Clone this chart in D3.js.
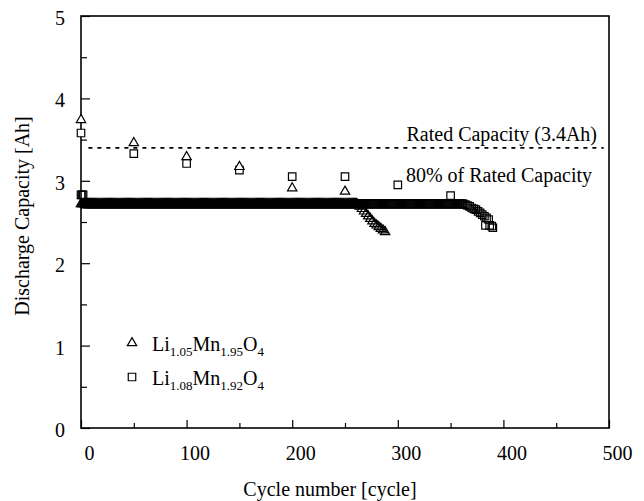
<!DOCTYPE html>
<html>
<head>
<meta charset="utf-8">
<script src="https://cdn.jsdelivr.net/npm/d3@7"></script>
<style>
  body { margin: 0; background: #fff; }
  text { font-family: "Liberation Serif", "Times New Roman", serif; fill: #000; }
</style>
</head>
<body>
<svg id="chart" width="644" height="501"></svg>
<script>
// Axis ticks
const xMajorTicks = [0, 100, 200, 300, 400, 500];
const xMinorTicks = [50, 150, 250, 350, 450];
const yMajorTicks = [0, 1, 2, 3, 4, 5];
const yMinorTicks = [0.5, 1.5, 2.5, 3.5, 4.5];

// Reference lines
const ratedCapacity = 3.4;
const ratedLabel = "Rated Capacity (3.4Ah)";
const eightyLabel = "80% of Rated Capacity";

// Full-capacity check every 50 cycles
const triCheckCycles = [0, 50, 100, 150, 200, 250];
const triCheckCap = [3.74, 3.46, 3.29, 3.17, 2.91, 2.87];
const sqCheckCycles = [0, 50, 100, 150, 200, 250, 300, 350];
const sqCheckCap = [3.58, 3.33, 3.21, 3.13, 3.05, 3.05, 2.95, 2.82];

// Per-cycle discharge capacity (array index = cycle number, null = not recorded)
// Li1.05Mn1.95O4
const triCapacity = [
  2.72,2.72,2.72,2.72,2.72,2.72,2.72,2.72,2.72,2.72,2.72,2.72,2.72,2.72,2.72,2.72,2.72,2.72,2.72,2.72,
  2.72,2.72,2.72,2.72,2.72,2.72,2.72,2.72,2.72,2.72,2.72,2.72,2.72,2.72,2.72,2.72,2.72,2.72,2.72,2.72,
  2.72,2.72,2.72,2.72,2.72,2.72,2.72,2.72,2.72,2.72,2.72,2.72,2.72,2.72,2.72,2.72,2.72,2.72,2.72,2.72,
  2.72,2.72,2.72,2.72,2.72,2.72,2.72,2.72,2.72,2.72,2.72,2.72,2.72,2.72,2.72,2.72,2.72,2.72,2.72,2.72,
  2.72,2.72,2.72,2.72,2.72,2.72,2.72,2.72,2.72,2.72,2.72,2.72,2.72,2.72,2.72,2.72,2.72,2.72,2.72,2.72,
  2.72,2.72,2.72,2.72,2.72,2.72,2.72,2.72,2.72,2.72,2.72,2.72,2.72,2.72,2.72,2.72,2.72,2.72,2.72,2.72,
  2.72,2.72,2.72,2.72,2.72,2.72,2.72,2.72,2.72,2.72,2.72,2.72,2.72,2.72,2.72,2.72,2.72,2.72,2.72,2.72,
  2.72,2.72,2.72,2.72,2.72,2.72,2.72,2.72,2.72,2.72,2.72,2.72,2.72,2.72,2.72,2.72,2.72,2.72,2.72,2.72,
  2.72,2.72,2.72,2.72,2.72,2.72,2.72,2.72,2.72,2.72,2.72,2.72,2.72,2.72,2.72,2.72,2.72,2.72,2.72,2.72,
  2.72,2.72,2.72,2.72,2.72,2.72,2.72,2.72,2.72,2.72,2.72,2.72,2.72,2.72,2.72,2.72,2.72,2.72,2.72,2.72,
  2.72,2.72,2.72,2.72,2.72,2.72,2.72,2.72,2.72,2.72,2.72,2.72,2.72,2.72,2.72,2.72,2.72,2.72,2.72,2.72,
  2.72,2.72,2.72,2.72,2.72,2.72,2.72,2.72,2.72,2.72,2.72,2.72,2.72,2.72,2.72,2.72,2.72,2.72,2.72,2.72,
  2.72,2.72,2.72,2.72,2.72,2.72,2.72,2.72,2.72,2.72,2.72,2.72,2.72,2.72,2.72,2.72,2.72,2.72,2.72,2.72,
  2.72,2.72,2.71,null,2.69,null,2.66,null,2.63,null,2.60,null,2.57,null,2.54,null,2.51,null,2.48,null,
  2.46,null,2.44,null,2.42,null,2.40,null,2.38
];
// Li1.08Mn1.92O4
const sqCapacity = [
  2.83,2.83,2.83,2.72,2.72,2.72,2.72,2.72,2.72,2.72,2.72,2.72,2.72,2.72,2.72,2.72,2.72,2.72,2.72,2.72,
  2.72,2.72,2.72,2.72,2.72,2.72,2.72,2.72,2.72,2.72,2.72,2.72,2.72,2.72,2.72,2.72,2.72,2.72,2.72,2.72,
  2.72,2.72,2.72,2.72,2.72,2.72,2.72,2.72,2.72,2.72,2.72,2.72,2.72,2.72,2.72,2.72,2.72,2.72,2.72,2.72,
  2.72,2.72,2.72,2.72,2.72,2.72,2.72,2.72,2.72,2.72,2.72,2.72,2.72,2.72,2.72,2.72,2.72,2.72,2.72,2.72,
  2.72,2.72,2.72,2.72,2.72,2.72,2.72,2.72,2.72,2.72,2.72,2.72,2.72,2.72,2.72,2.72,2.72,2.72,2.72,2.72,
  2.72,2.72,2.72,2.72,2.72,2.72,2.72,2.72,2.72,2.72,2.72,2.72,2.72,2.72,2.72,2.72,2.72,2.72,2.72,2.72,
  2.72,2.72,2.72,2.72,2.72,2.72,2.72,2.72,2.72,2.72,2.72,2.72,2.72,2.72,2.72,2.72,2.72,2.72,2.72,2.72,
  2.72,2.72,2.72,2.72,2.72,2.72,2.72,2.72,2.72,2.72,2.72,2.72,2.72,2.72,2.72,2.72,2.72,2.72,2.72,2.72,
  2.72,2.72,2.72,2.72,2.72,2.72,2.72,2.72,2.72,2.72,2.72,2.72,2.72,2.72,2.72,2.72,2.72,2.72,2.72,2.72,
  2.72,2.72,2.72,2.72,2.72,2.72,2.72,2.72,2.72,2.72,2.72,2.72,2.72,2.72,2.72,2.72,2.72,2.72,2.72,2.72,
  2.72,2.72,2.72,2.72,2.72,2.72,2.72,2.72,2.72,2.72,2.72,2.72,2.72,2.72,2.72,2.72,2.72,2.72,2.72,2.72,
  2.72,2.72,2.72,2.72,2.72,2.72,2.72,2.72,2.72,2.72,2.72,2.72,2.72,2.72,2.72,2.72,2.72,2.72,2.72,2.72,
  2.72,2.72,2.72,2.72,2.72,2.72,2.72,2.72,2.72,2.72,2.72,2.72,2.72,2.72,2.72,2.72,2.72,2.72,2.72,2.72,
  2.72,2.72,2.72,2.72,2.72,2.72,2.72,2.72,2.72,2.72,2.72,2.72,2.72,2.72,2.72,2.72,2.72,2.72,2.72,2.72,
  2.72,2.72,2.72,2.72,2.72,2.72,2.72,2.72,2.72,2.72,2.72,2.72,2.72,2.72,2.72,2.72,2.72,2.72,2.72,2.72,
  2.72,2.72,2.72,2.72,2.72,2.72,2.72,2.72,2.72,2.72,2.72,2.72,2.72,2.72,2.72,2.72,2.72,2.72,2.72,2.72,
  2.72,2.72,2.72,2.72,2.72,2.72,2.72,2.72,2.72,2.72,2.72,2.72,2.72,2.72,2.72,2.72,2.72,2.72,2.72,2.72,
  2.72,2.72,2.72,2.72,2.72,2.72,2.72,2.72,2.72,2.72,2.72,2.72,2.72,2.72,2.72,2.72,2.72,2.72,2.72,2.72,
  2.72,2.72,2.72,null,2.71,null,2.70,null,2.69,null,2.67,null,2.66,null,2.65,null,2.63,null,2.61,null,
  2.59,null,2.57,2.46,2.55,null,2.53,2.46,null,2.45,2.43
];

// Legend entries
const legendLabels = [
  { symbol: "triangle", parts: [["Li", false], ["1.05", true], ["Mn", false], ["1.95", true], ["O", false], ["4", true]] },
  { symbol: "square",   parts: [["Li", false], ["1.08", true], ["Mn", false], ["1.92", true], ["O", false], ["4", true]] }
];

const svg = d3.select("#chart");
const x = d3.scaleLinear().domain([0, 500]).range([81, 609]);
const y = d3.scaleLinear().domain([0, 5]).range([428, 16]);

const triSym = d3.symbol().type(d3.symbolTriangle).size(38);
const sqSym = d3.symbol().type(d3.symbolSquare).size(56);
const symFor = s => s === "triangle" ? triSym() : sqSym();

// Axes with inward ticks
const gx = svg.append("g").attr("transform", `translate(0,${y(0)})`)
  .call(d3.axisBottom(x).tickValues(xMajorTicks).tickSize(-8).tickPadding(18).tickFormat(d3.format("d")));
gx.selectAll("text").attr("dx", 8);
svg.append("g").attr("transform", `translate(0,${y(0)})`)
  .call(d3.axisBottom(x).tickValues(xMinorTicks).tickSize(-5).tickFormat(""));

const gy = svg.append("g").attr("transform", `translate(${x(0)},0)`)
  .call(d3.axisLeft(y).tickValues(yMajorTicks).tickSize(-9).tickPadding(16).tickFormat(d3.format("d")));
gy.selectAll("text").attr("dy", "0.42em");
svg.append("g").attr("transform", `translate(${x(0)},0)`)
  .call(d3.axisLeft(y).tickValues(yMinorTicks).tickSize(-6).tickFormat(""));

svg.selectAll(".domain").remove();
svg.selectAll(".tick line").attr("stroke", "#000").attr("stroke-width", 1.2);
svg.selectAll(".tick text").style("font-size", "20px").style("font-family", "'Liberation Serif', serif").attr("fill", "#000");

// Plot frame
svg.append("rect")
  .attr("x", x(0)).attr("y", y(5))
  .attr("width", x(500) - x(0)).attr("height", y(0) - y(5))
  .attr("fill", "none").attr("stroke", "#000").attr("stroke-width", 1.6);

// Rated capacity line
svg.append("line")
  .attr("x1", x(7)).attr("x2", x(495))
  .attr("y1", y(ratedCapacity)).attr("y2", y(ratedCapacity))
  .attr("stroke", "#000").attr("stroke-width", 1.8)
  .attr("stroke-dasharray", "4,5");

svg.append("text").attr("x", 597).attr("y", y(ratedCapacity) - 7)
  .attr("text-anchor", "end").style("font-size", "20px").text(ratedLabel);
svg.append("text").attr("x", 592).attr("y", y(ratedCapacity) + 34)
  .attr("text-anchor", "end").style("font-size", "20px").text(eightyLabel);

// Per-cycle markers
function drawSeries(values, sym) {
  const pts = values.map((v, i) => ({ c: i, v })).filter(d => d.v !== null);
  svg.append("g").selectAll("path").data(pts).join("path")
    .attr("d", sym)
    .attr("transform", d => `translate(${x(d.c)},${y(d.v)})`)
    .attr("fill", "none").attr("stroke", "#000").attr("stroke-width", 1.2);
}
drawSeries(sqCapacity, sqSym);
drawSeries(triCapacity, triSym);

function drawChecks(cycles, caps, sym) {
  svg.append("g").selectAll("path").data(cycles.map((c, i) => ({ c, v: caps[i] }))).join("path")
    .attr("d", sym)
    .attr("transform", d => `translate(${x(d.c)},${y(d.v)})`)
    .attr("fill", "#fff").attr("stroke", "#000").attr("stroke-width", 1.2);
}
drawChecks(sqCheckCycles, sqCheckCap, sqSym);
drawChecks(triCheckCycles, triCheckCap, triSym);

// Legend
legendLabels.forEach((entry, i) => {
  const cy = 343 + i * 34;
  svg.append("path").attr("d", symFor(entry.symbol))
    .attr("transform", `translate(132,${cy})`)
    .attr("fill", "none").attr("stroke", "#000").attr("stroke-width", 1.2);
  const t = svg.append("text").attr("x", 152).attr("y", cy + 8).style("font-size", "20px");
  entry.parts.forEach(([s, sub]) => {
    t.append("tspan").text(s)
      .style("font-size", sub ? "13px" : "20px")
      .attr("dy", sub ? 5 : (s === "Li" ? 0 : -5));
  });
});

// Axis titles
svg.append("text").attr("x", 330).attr("y", 496)
  .attr("text-anchor", "middle").style("font-size", "20px").text("Cycle number [cycle]");
svg.append("text").attr("transform", "translate(29,216) rotate(-90)")
  .attr("text-anchor", "middle").style("font-size", "20px").text("Discharge Capacity [Ah]");
</script>
</body>
</html>
